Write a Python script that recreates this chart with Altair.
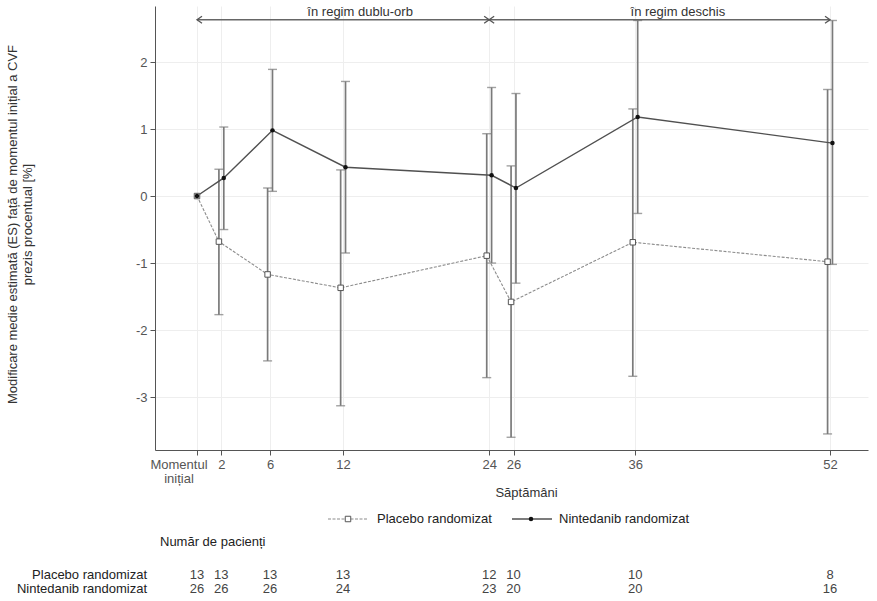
import altair as alt
import pandas as pd

# --- values -------------------------------------------------------------
weeks = [0, 2, 6, 12, 24, 26, 36, 52]

placebo_mean = [0.0, -0.68, -1.17, -1.37, -0.89, -1.58, -0.69, -0.98]
placebo_low = [None, -1.77, -2.46, -3.13, -2.71, -3.60, -2.69, -3.55]
placebo_high = [None, 0.40, 0.12, 0.39, 0.93, 0.45, 1.30, 1.59]

ninted_mean = [0.0, 0.27, 0.98, 0.43, 0.31, 0.12, 1.18, 0.79]
ninted_low = [None, -0.50, 0.07, -0.85, -1.00, -1.30, -0.26, -1.02]
ninted_high = [None, 1.03, 1.89, 1.71, 1.62, 1.53, 2.62, 2.62]

placebo_n = [13, 13, 13, 13, 12, 10, 10, 8]
ninted_n = [26, 26, 26, 24, 23, 20, 20, 16]

group_names = ["Placebo randomizat", "Nintedanib randomizat"]
y_ticks = [-3, -2, -1, 0, 1, 2]

period_labels = ["în regim dublu-orb", "în regim deschis"]
period_start = [0, 24]
period_end = [24, 52]
period_label_week = [13.4, 39.5]
period_level = 2.63

FONT = "Liberation Sans"
W, H = 713, 444

# --- tables -------------------------------------------------------------
rows = []
for g, (mean, lo, hi, n, shift) in enumerate([
    (placebo_mean, placebo_low, placebo_high, placebo_n, -0.2),
    (ninted_mean, ninted_low, ninted_high, ninted_n, 0.2),
]):
    for i, wk in enumerate(weeks):
        rows.append({
            "group": group_names[g],
            "week": wk,
            "xpos": wk + (shift if wk > 0 else 0.0),
            "mean": mean[i],
            "low": lo[i],
            "high": hi[i],
            "n": str(n[i]),
        })
df = pd.DataFrame(rows)
placebo = df[df.group == group_names[0]]
ninted = df[df.group == group_names[1]]
bars = df.dropna(subset=["low"])

periods = pd.DataFrame({
    "label": period_labels,
    "start": period_start,
    "end": period_end,
    "mid": period_label_week,
    "level": [period_level] * len(period_labels),
})

x_scale = alt.Scale(domain=[-3.45, 55.12], nice=False, zero=False)
y_scale = alt.Scale(domain=[-3.79, 2.836], nice=False, zero=False)

x_axis = alt.Axis(
    values=weeks, grid=True, gridColor="#eeeeee", tickSize=5, tickColor="#555555",
    domainColor="#555555", labelColor="#555555", labelFontSize=13, labelFont=FONT,
    labelPadding=3, labelExpr="datum.value == 0 ? '' : datum.label",
    title="Săptămâni", titleFont=FONT, titleFontSize=13, titleFontWeight="normal",
    titleColor="#333333", titleX=371, titleY=42, titleBaseline="middle",
)
y_axis = alt.Axis(
    values=y_ticks, grid=True, gridColor="#eeeeee", tickSize=5, tickColor="#555555",
    domainColor="#555555", labelColor="#555555", labelFontSize=13, labelFont=FONT,
    labelPadding=3, labelExpr="'' + datum.value",
    title=["Modificare medie estimată (ES) față de momentul inițial a CVF",
           "prezis procentual [%]"],
    titleFont=FONT, titleFontSize=13, titleFontWeight="normal", titleColor="#333333",
    titleX=-136, titleY=218, titleAngle=-90, titleAlign="center",
    titleBaseline="bottom", titleLineHeight=15,
)

X = alt.X("xpos:Q", scale=x_scale, axis=x_axis)
Y = alt.Y("mean:Q", scale=y_scale, axis=y_axis)

# --- error bars -----------------------------------------------------------
err = alt.Chart(bars).mark_rule(color="#7a7a7a", strokeWidth=1.7).encode(
    x=alt.X("xpos:Q", scale=x_scale), y=alt.Y("low:Q", scale=y_scale), y2="high:Q")
cap_lo = alt.Chart(bars).mark_tick(orient="horizontal", size=9, thickness=1.4,
                                   color="#7a7a7a").encode(
    x=alt.X("xpos:Q", scale=x_scale), y=alt.Y("low:Q", scale=y_scale))
cap_hi = alt.Chart(bars).mark_tick(orient="horizontal", size=9, thickness=1.4,
                                   color="#7a7a7a").encode(
    x=alt.X("xpos:Q", scale=x_scale), y=alt.Y("high:Q", scale=y_scale))

# --- series -----------------------------------------------------------------
line_p = alt.Chart(placebo).mark_line(color="#8c8c8c", strokeWidth=1.1,
                                      strokeDash=[3, 1.5]).encode(x=X, y=Y)
line_n = alt.Chart(ninted).mark_line(color="#505050", strokeWidth=1.4).encode(
    x=alt.X("xpos:Q", scale=x_scale), y=alt.Y("mean:Q", scale=y_scale))
pts_p = alt.Chart(placebo).mark_point(shape="square", filled=True, fill="white",
                                      stroke="#555555", strokeWidth=1, size=30,
                                      opacity=1).encode(
    x=alt.X("xpos:Q", scale=x_scale), y=alt.Y("mean:Q", scale=y_scale))
pts_n = alt.Chart(ninted).mark_point(shape="circle", filled=True, color="#111111",
                                     size=20, opacity=1).encode(
    x=alt.X("xpos:Q", scale=x_scale), y=alt.Y("mean:Q", scale=y_scale))

# --- study period arrows -----------------------------------------------------
arrow_line = alt.Chart(periods).mark_rule(color="#666666", strokeWidth=1.5).encode(
    x=alt.X("start:Q", scale=x_scale), x2="end:Q", y=alt.Y("level:Q", scale=y_scale))
head_left = alt.Chart(periods).mark_point(
    shape="M1,-0.7L0,0L1,0.7", size=100, filled=False, stroke="#555555",
    strokeWidth=1.3, opacity=1).encode(
    x=alt.X("start:Q", scale=x_scale), y=alt.Y("level:Q", scale=y_scale))
head_right = alt.Chart(periods).mark_point(
    shape="M-1,-0.7L0,0L-1,0.7", size=100, filled=False, stroke="#555555",
    strokeWidth=1.3, opacity=1).encode(
    x=alt.X("end:Q", scale=x_scale), y=alt.Y("level:Q", scale=y_scale))
period_text = alt.Chart(periods).mark_text(
    font=FONT, fontSize=13, color="#333333", baseline="bottom", dy=-1).encode(
    x=alt.X("mid:Q", scale=x_scale), y=alt.Y("level:Q", scale=y_scale), text="label:N")

# --- baseline tick label ------------------------------------------------------
baseline_label = alt.Chart(pd.DataFrame({"week": [0], "t": ["Momentul\ninițial"]})).mark_text(
    font=FONT, fontSize=13, color="#555555", baseline="top", align="center",
    lineBreak="\n", lineHeight=14, dx=-18).encode(
    x=alt.X("week:Q", scale=x_scale), y=alt.value(H + 8.5), text="t:N")

# --- legend -----------------------------------------------------------------------
leg_y = 513
leg_p_line = alt.Chart(placebo.head(1)).mark_rule(
    color="#8c8c8c", strokeWidth=1.1, strokeDash=[3, 1.5]).encode(
    x=alt.value(173), x2=alt.value(212), y=alt.value(leg_y))
leg_p_pt = alt.Chart(placebo.head(1)).mark_point(
    shape="square", filled=True, fill="white", stroke="#555555", strokeWidth=1,
    size=30, opacity=1).encode(x=alt.value(193), y=alt.value(leg_y))
leg_p_txt = alt.Chart(placebo.head(1)).mark_text(
    font=FONT, fontSize=13, color="#222222", align="left", baseline="middle").encode(
    x=alt.value(222), y=alt.value(leg_y), text="group:N")
leg_n_line = alt.Chart(ninted.head(1)).mark_rule(
    color="#505050", strokeWidth=1.4).encode(
    x=alt.value(357), x2=alt.value(397), y=alt.value(leg_y))
leg_n_pt = alt.Chart(ninted.head(1)).mark_point(
    shape="circle", filled=True, color="#111111", size=20, opacity=1).encode(
    x=alt.value(376), y=alt.value(leg_y))
leg_n_txt = alt.Chart(ninted.head(1)).mark_text(
    font=FONT, fontSize=13, color="#222222", align="left", baseline="middle").encode(
    x=alt.value(404), y=alt.value(leg_y), text="group:N")

# --- patients at risk table ---------------------------------------------------------
table_head = alt.Chart(pd.DataFrame({"t": ["Număr de pacienți"]})).mark_text(
    font=FONT, fontSize=13, color="#222222", align="left", baseline="middle").encode(
    x=alt.value(5), y=alt.value(536), text="t:N")

row_y = {group_names[0]: 569, group_names[1]: 583}
table_parts = []
for name, sub in [(group_names[0], placebo), (group_names[1], ninted)]:
    table_parts.append(alt.Chart(sub.head(1)).mark_text(
        font=FONT, fontSize=13, color="#222222", align="right", baseline="middle").encode(
        x=alt.value(-8), y=alt.value(row_y[name]), text="group:N"))
    table_parts.append(alt.Chart(sub).mark_text(
        font=FONT, fontSize=13, color="#444444", align="center", baseline="middle").encode(
        x=alt.X("week:Q", scale=x_scale), y=alt.value(row_y[name]), text="n:N"))

chart = alt.layer(
    err, cap_lo, cap_hi, line_p, line_n, pts_p, pts_n,
    arrow_line, head_left, head_right, period_text, baseline_label,
    leg_p_line, leg_p_pt, leg_p_txt, leg_n_line, leg_n_pt, leg_n_txt,
    table_head, *table_parts,
).properties(
    width=W, height=H,
    padding={"left": 155, "top": 6, "right": 9, "bottom": 151},
    autosize=alt.AutoSizeParams(type="none"),
    background="white",
).configure_view(stroke=None)

chart.save("out.html", embed_options={"renderer": "svg", "actions": False})
